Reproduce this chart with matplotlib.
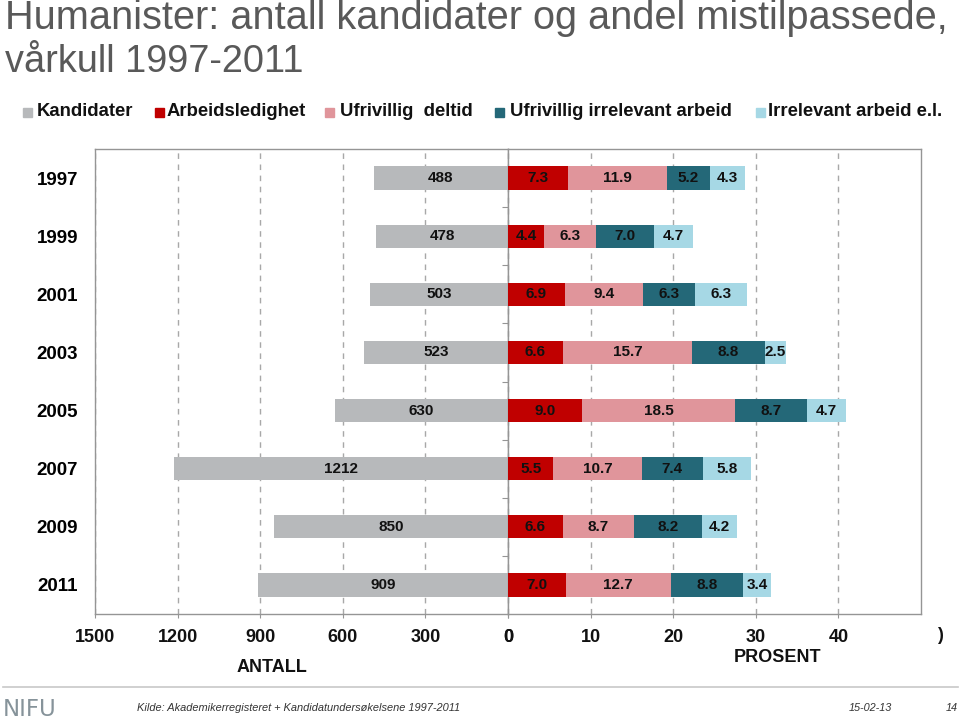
import numpy as np
import matplotlib
matplotlib.use('Agg')
import matplotlib.pyplot as plt
from matplotlib.patches import Rectangle

plt.rcParams['font.family'] = ['Liberation Sans', 'DejaVu Sans']

# data
years = ['1997', '1999', '2001', '2003', '2005', '2007', '2009', '2011']
kandidater = [488, 478, 503, 523, 630, 1212, 850, 909]
arbeidsledighet = [7.3, 4.4, 6.9, 6.6, 9.0, 5.5, 6.6, 7.0]
ufrivillig_deltid = [11.9, 6.3, 9.4, 15.7, 18.5, 10.7, 8.7, 12.7]
ufrivillig_irrelevant = [5.2, 7.0, 6.3, 8.8, 8.7, 7.4, 8.2, 8.8]
irrelevant = [4.3, 4.7, 6.3, 2.5, 4.7, 5.8, 4.2, 3.4]

antall_ticks = [1500, 1200, 900, 600, 300, 0]
prosent_ticks = [0, 10, 20, 30, 40]

serie_navn = ['Arbeidsledighet', 'Ufrivillig  deltid', 'Ufrivillig irrelevant arbeid', 'Irrelevant arbeid e.l.']
serier = [arbeidsledighet, ufrivillig_deltid, ufrivillig_irrelevant, irrelevant]

GRAY = '#b7b9bb'
colours = ['#c00000', '#e0959b', '#246878', '#a6d8e5']
SPINE = '#959595'
GRID = '#a8a8a8'
TXT = '#111111'

W, H = 960, 725
fig = plt.figure(figsize=(W / 100, H / 100), dpi=100)


def fx(x):
    return x / W


def fy(y):
    return 1 - y / H


# axes box: x 95..508..921, y 149..614
ax1 = fig.add_axes([fx(95), fy(614), fx(508 - 95), (614 - 149) / H])
ax2 = fig.add_axes([fx(508), fy(614), fx(921 - 508), (614 - 149) / H])

y = np.arange(len(years))
bh = 0.4

# left panel: number of candidates
ax1.barh(y, kandidater, height=bh, color=GRAY, zorder=3)
for yi, v in zip(y, kandidater):
    ax1.text(v / 2, yi, str(v), ha='center', va='center', fontsize=11,
             fontweight='bold', color=TXT, zorder=4)
ax1.set_xlim(1500, 0)
ax1.set_xticks(antall_ticks)
ax1.set_xticklabels([str(t) for t in antall_ticks])
ax1.set_yticks(y)
ax1.set_yticklabels(years)
ax1.tick_params(axis='y', length=0, pad=12, labelsize=13.5)
for lab in ax1.get_yticklabels():
    lab.set_fontweight('bold')

# right panel: stacked percentages
left = np.zeros(len(years))
for vals, c in zip(serier, colours):
    vals = np.array(vals)
    ax2.barh(y, vals, left=left, height=bh, color=c, zorder=3)
    for yi, l, v in zip(y, left, vals):
        ax2.text(l + v / 2, yi, f'{v:.1f}', ha='center', va='center',
                 fontsize=11, fontweight='bold', color=TXT, zorder=4)
    left = left + vals
ax2.set_xlim(0, 50)
ax2.set_xticks(prosent_ticks)
ax2.set_xticklabels([str(t) for t in prosent_ticks])
ax2.set_yticks(y[:-1] + 0.5)
ax2.set_yticklabels([])
ax2.tick_params(axis='y', direction='out', length=4, color=SPINE)

for ax in (ax1, ax2):
    ax.set_ylim(len(years) - 0.5, -0.5)
    ax.grid(axis='x', color=GRID, linestyle=(0, (4, 4)), linewidth=1, zorder=0)
    ax.set_axisbelow(True)
    for s in ax.spines.values():
        s.set_color(SPINE)
        s.set_linewidth(1)
    ax.tick_params(axis='x', direction='out', length=3, color=SPINE,
                   labelsize=13, pad=8)
    for lab in ax.get_xticklabels():
        lab.set_fontweight('bold')
        lab.set_color(TXT)

fig.text(fx(940), fy(636), ')', ha='center', va='center', fontsize=13,
         fontweight='bold', color=TXT)
fig.text(fx(272), fy(667), 'ANTALL', ha='center', va='center', fontsize=13,
         fontweight='bold', color=TXT)
fig.text(fx(778), fy(658), 'PROSENT', ha='center', va='center', fontsize=13,
         fontweight='bold', color=TXT)

# title
fig.text(fx(5), fy(29), 'Humanister: antall kandidater og andel mistilpassede,',
         ha='left', va='baseline', fontsize=28.6, color='#595959')
fig.text(fx(5), fy(72), 'vårkull 1997-2011', ha='left', va='baseline',
         fontsize=27.3, color='#595959')

# legend drawn by hand
legend_items = [(23, 37, 'Kandidater', GRAY)]
legend_pos = [(155, 167), (325, 340), (495, 510), (756, 768)]
for (xs, xt), navn, c in zip(legend_pos, serie_navn, colours):
    legend_items.append((xs, xt, navn, c))
for xs, xt, navn, c in legend_items:
    fig.patches.append(Rectangle((fx(xs), fy(116.5)), 9 / W, 9 / H,
                                 transform=fig.transFigure, color=c))
    fig.text(fx(xt), fy(112), navn, ha='left', va='center', fontsize=13.3,
             fontweight='bold', color=TXT)

# footer
fig.add_artist(plt.Line2D([fx(3), fx(958)], [fy(687), fy(687)],
                          color='#c8c8c8', linewidth=1.2,
                          transform=fig.transFigure))
fig.text(fx(3), fy(710), 'NIFU', ha='left', va='center', fontsize=16.5,
         family='DejaVu Sans', color='#86939a')
fig.text(fx(137), fy(708), 'Kilde: Akademikerregisteret + Kandidatundersøkelsene 1997-2011',
         ha='left', va='center', fontsize=7.9, style='italic', color='#333333')
fig.text(fx(849), fy(708), '15-02-13', ha='left', va='center', fontsize=7.8,
         style='italic', color='#333333')
fig.text(fx(946), fy(708), '14', ha='left', va='center', fontsize=7.8,
         style='italic', color='#333333')

fig.savefig('out.png', dpi=100)
